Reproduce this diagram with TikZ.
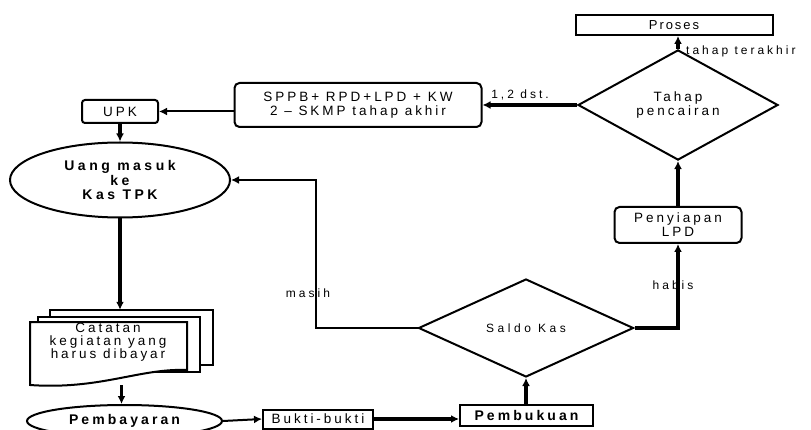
\documentclass[tikz,border=0pt]{standalone}
\usepackage{fontspec}
\setmainfont{Liberation Sans}[LetterSpace=22]
\usetikzlibrary{shapes.geometric,arrows.meta}
\begin{document}
\begin{tikzpicture}[x=1pt,y=-1pt,
  outl/.style={draw, line width=2pt},
  boxn/.style={outl, rectangle, inner sep=0pt, align=center, font=\fontsize{13.5}{14}\selectfont},
  rbox/.style={boxn, rounded corners=5pt},
  ell/.style={outl, ellipse, inner sep=0pt, align=center, font=\fontsize{14}{14.5}\selectfont\bfseries},
  dia/.style={outl, diamond, inner sep=0pt, align=center, font=\fontsize{13.5}{14.5}\selectfont},
  conn/.style={line width=3.4pt, -{Latex[length=8pt,width=8pt]}},
  tconn/.style={line width=2pt, -{Latex[length=8pt,width=8pt]}},
  lbl/.style={font=\fontsize{12}{13}\selectfont\addfontfeature{LetterSpace=25}, inner sep=1pt},
  docline/.style={line width=2pt, fill=white}
]
\useasboundingbox (0,0) rectangle (811,430);

% nodes
\node[boxn, minimum width=197pt, minimum height=20pt, font=\fontsize{13}{14}\selectfont\addfontfeature{LetterSpace=15}] (proses) at (674,25) {Proses};
\node[dia, minimum width=200pt, minimum height=78pt] (tahap) at (678,105) {Tahap\\pencairan};
\node[rbox, minimum width=247pt, minimum height=44pt] (sppb) at (358,105) {SPPB+ RPD+LPD + KW\\2 -- SKMP tahap akhir};
\node[rbox, rounded corners=3pt, minimum width=76pt, minimum height=23pt] (upk) at (120,111.5) {UPK};
\node[ell, minimum width=220pt, minimum height=75pt, font=\fontsize{14}{14.5}\selectfont\bfseries\addfontfeature{LetterSpace=25}] (uang) at (120,180) {Uang masuk\\ke\\Kas TPK};
\node[rbox, minimum width=127pt, minimum height=36pt] (penyiapan) at (678,225) {Penyiapan\\LPD};
\node[dia, minimum width=215pt, minimum height=98pt, font=\fontsize{12}{13}\selectfont\addfontfeature{LetterSpace=30}] (saldo) at (526,328) {Saldo Kas};

% document stack
\node[minimum width=183pt, minimum height=75pt, inner sep=0pt] (catatan) at (121.5,347.5) {};
\draw[docline] (50,310) rectangle (213,365);
\draw[docline] (38,317) rectangle (200,372);
\draw[docline] (30,322) -- (187,322) -- (187,370) .. controls (140,368) and (100,390) .. (30,385) -- cycle;
\node[align=center, font=\fontsize{13.5}{12.5}\selectfont] (cattext) at (108,342.5) {Catatan\\kegiatan yang\\harus dibayar};

\node[ell, minimum width=195pt, minimum height=32pt] (pembayaran) at (124.5,421) {Pembayaran};
\node[boxn, minimum width=110pt, minimum height=19pt] (bukti) at (318,419) {Bukti-bukti};
\node[boxn, minimum width=133pt, minimum height=21pt, font=\fontsize{14}{14}\selectfont\bfseries] (pembukuan) at (526.5,415.5) {Pembukuan};

\coordinate (m) at (316,180);

% connectors
\draw[conn] (tahap.north) -- (tahap.north |- proses.south);
\node[lbl, anchor=west] (lterakhir) at (685,51) {tahap terakhir};
\draw[conn] (tahap.west) -- (sppb.east |- tahap.west);
\node[lbl] (ldst) at (520,95) {1,2 dst.};
\draw[tconn] (sppb.west |- upk.east) -- (upk.east);
\draw[conn] (upk.south) -- (uang.north);
\draw[conn] (uang.south) -- (uang.south |- catatan.north);
\draw[conn] (catatan.south) -- (catatan.south |- pembayaran.north);
\draw[tconn] (pembayaran.east) -- (bukti.west);
\draw[conn] (bukti.east) -- (pembukuan.west |- bukti.east);
\draw[conn] (pembukuan.north -| saldo.south) -- (saldo.south);
\draw[tconn] (saldo.west) -| (m) -- (uang.east);
\node[lbl] (lmasih) at (308,293) {masih};
\draw[conn] (saldo.east) -| (penyiapan.south);
\node[lbl] (lhabis) at (673,285) {habis};
\draw[conn] (penyiapan.north) -- (tahap.south);
\end{tikzpicture}
\end{document}
